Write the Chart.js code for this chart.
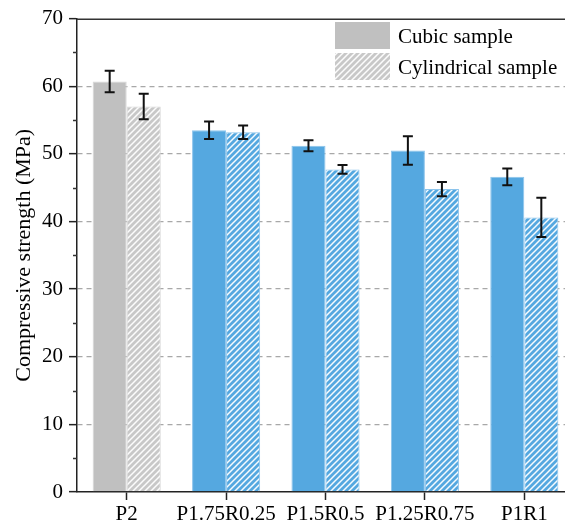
<!DOCTYPE html>
<html>
<head>
<meta charset="utf-8">
<script src="https://cdn.jsdelivr.net/npm/chart.js@4.4.1/dist/chart.umd.min.js"></script>
<style>
  html, body { margin: 0; padding: 0; background: #fff; overflow: hidden; }
  .can-con { width: 575px; height: 529px; }
</style>
</head>
<body>
<div class="can-con"><canvas id="myChart" width="575" height="529"></canvas></div>
<script>
// data
const categories = ["P2", "P1.75R0.25", "P1.5R0.5", "P1.25R0.75", "P1R1"];
const cubicMeans = [60.7, 53.5, 51.2, 50.5, 46.6];
const cubicErrors = [1.6, 1.3, 0.8, 2.1, 1.25];
const cylMeans = [57.0, 53.2, 47.7, 44.8, 40.6];
const cylErrors = [1.9, 1.0, 0.65, 1.05, 2.9];
const seriesNames = ["Cubic sample", "Cylindrical sample"];

const FONT = "'Liberation Serif', 'Times New Roman', serif";
const gray = "#c0c0c0";
const blue = "#55a8e0";

// hatch pattern: white diagonal stripes over a colour
const makeHatch = (base) => {
  let size = 6;
  let c = document.createElement("canvas");
  c.width = size;
  c.height = size;
  let g = c.getContext("2d");
  g.fillStyle = base;
  g.fillRect(0, 0, size, size);
  g.strokeStyle = "rgba(255,255,255,0.95)";
  g.lineWidth = 1.5;
  g.beginPath();
  g.moveTo(0, size);
  g.lineTo(size, 0);
  g.moveTo(-1, 1);
  g.lineTo(1, -1);
  g.moveTo(size - 1, size + 1);
  g.lineTo(size + 1, size - 1);
  g.stroke();
  return g.createPattern(c, "repeat");
};

const grayHatch = makeHatch("#c8c8c8");
const blueHatch = makeHatch(blue);

const solidColors = categories.map((c, i) => (i == 0 ? gray : blue));
const hatchColors = categories.map((c, i) => (i == 0 ? grayHatch : blueHatch));
const solidBorders = categories.map((c, i) => (i == 0 ? "#d6d6d6" : "#8cc4ec"));

let ctx = document.getElementById("myChart");

var config = {
  type: "bar",
  data: {
    labels: categories,
    datasets: [
      {
        label: seriesNames[0],
        data: cubicMeans,
        errors: cubicErrors,
        backgroundColor: solidColors,
        borderColor: solidBorders,
        borderWidth: 1,
        barPercentage: 1,
        categoryPercentage: 0.685,
      },
      {
        label: seriesNames[1],
        data: cylMeans,
        errors: cylErrors,
        backgroundColor: hatchColors,
        borderColor: solidBorders,
        borderWidth: 1,
        barPercentage: 1,
        categoryPercentage: 0.685,
      },
    ],
  },
  options: {
    responsive: false,
    animation: false,
    layout: { padding: { left: 0, top: 13, right: 1, bottom: 0 } },
    scales: {
      x: {
        grid: {
          offset: false,
          drawOnChartArea: false,
          tickLength: 8,
          tickColor: "#222",
          tickWidth: 1.5,
        },
        border: { color: "#222", width: 1.5 },
        ticks: {
          color: "#000",
          padding: 2,
          maxRotation: 0,
          autoSkip: false,
          font: { family: FONT, size: 21 },
        },
        afterFit: (scale) => {
          scale.height = 37;
        },
      },
      y: {
        min: 0,
        max: 70,
        ticks: {
          stepSize: 10,
          color: "#000",
          padding: 6,
          font: { family: FONT, size: 21 },
        },
        grid: {
          color: (c) => {
            if (c.tick.value == 0 || c.tick.value == 70) return "rgba(0,0,0,0)";
            return "#a8a8a8";
          },
          lineWidth: 1.3,
          tickLength: 8,
          tickColor: "#222",
          tickWidth: 1.5,
        },
        border: {
          color: "#222",
          width: 1.5,
          dash: [5, 4],
        },
        title: {
          display: true,
          text: "Compressive strength (MPa)",
          color: "#000",
          padding: { top: 11, bottom: 0 },
          font: { family: FONT, size: 22 },
        },
        afterFit: (scale) => {
          scale.width = 77;
        },
      },
    },
    plugins: {
      legend: { display: false },
      tooltip: { enabled: false },
    },
  },
  plugins: [
    {
      id: "extras",
      afterDatasetsDraw: function (chart) {
        const ctx = chart.ctx;
        const yAxis = chart.scales.y;
        // error bars
        chart.data.datasets.forEach((ds, d) => {
          let meta = chart.getDatasetMeta(d);
          meta.data.forEach((bar, i) => {
            let top = yAxis.getPixelForValue(ds.data[i] + ds.errors[i]);
            let bot = yAxis.getPixelForValue(ds.data[i] - ds.errors[i]);
            ctx.save();
            ctx.strokeStyle = "#111";
            ctx.lineWidth = 2;
            ctx.beginPath();
            ctx.moveTo(bar.x, top);
            ctx.lineTo(bar.x, bot);
            ctx.moveTo(bar.x - 5, top);
            ctx.lineTo(bar.x + 5, top);
            ctx.moveTo(bar.x - 5, bot);
            ctx.lineTo(bar.x + 5, bot);
            ctx.stroke();
            ctx.restore();
          });
        });
      },
      afterDraw: function (chart) {
        const ctx = chart.ctx;
        const yAxis = chart.scales.y;
        const xAxis = chart.scales.x;
        ctx.save();
        ctx.setLineDash([]);
        ctx.strokeStyle = "#333";
        ctx.lineWidth = 1.5;
        ctx.beginPath();
        // top frame line at the axis maximum
        let yTop = Math.round(yAxis.getPixelForValue(70)) + 0.25;
        ctx.moveTo(xAxis.left, yTop);
        ctx.lineTo(xAxis.right + 10, yTop);
        // minor ticks on the y axis
        for (let v = 5; v < 70; v += 10) {
          let y = Math.round(yAxis.getPixelForValue(v)) + 0.5;
          ctx.moveTo(yAxis.right - 4, y);
          ctx.lineTo(yAxis.right, y);
        }
        ctx.stroke();
        ctx.restore();

        // legend inside the plot, top right
        let fills = [gray, grayHatch];
        ctx.save();
        ctx.font = `21px ${FONT}`;
        ctx.fillStyle = "#000";
        ctx.textBaseline = "middle";
        for (let i = 0; i < seriesNames.length; i++) {
          let y = 22 + i * 31;
          ctx.fillStyle = fills[i];
          ctx.fillRect(335, y, 55, 27);
          ctx.fillStyle = "#000";
          ctx.fillText(seriesNames[i], 398, y + 15);
        }
        ctx.restore();
      },
    },
  ],
};

const myChart = new Chart(ctx, config);
</script>
</body>
</html>
